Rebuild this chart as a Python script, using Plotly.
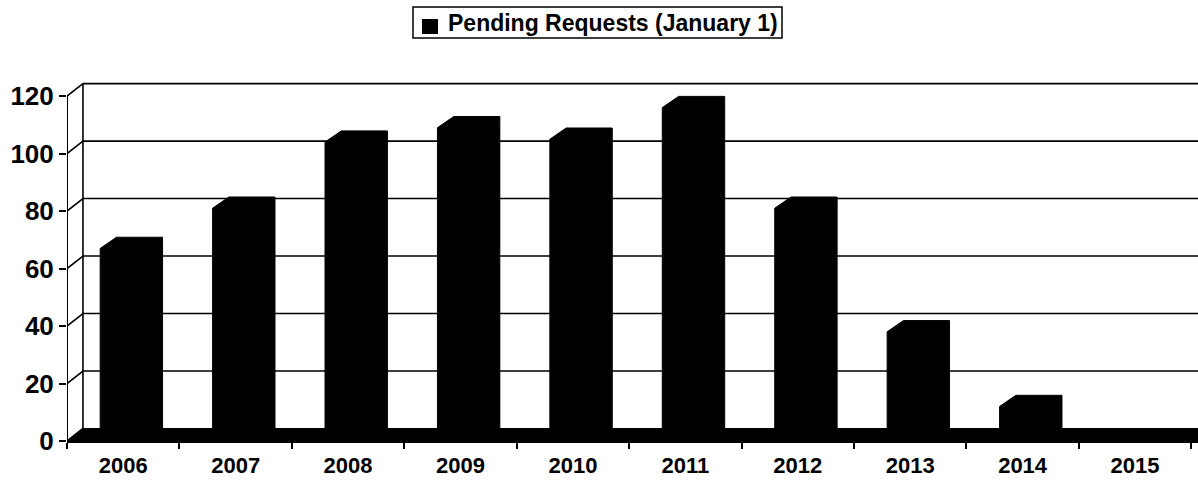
import plotly.graph_objects as go

# Pending requests outstanding on January 1 of each year
years = ["2006", "2007", "2008", "2009", "2010", "2011", "2012", "2013", "2014", "2015"]
pending = [67, 81, 104, 109, 105, 116, 81, 38, 12, 0]
y_ticks = [0, 20, 40, 60, 80, 100, 120]
series_name = "Pending Requests (January 1)"

W, H = 1198, 480
M_L, M_R, M_T, M_B = 67, 0, 78, 39

# pseudo-3D geometry (axis units): wall/floor depth and bar depth
WALL_DX, WALL_DY = 0.142, 4.35
BAR_DX, BAR_DY = 0.145, 3.9
BAR_W = 0.41
X_MAX = 10.06
Y_MAX = 126.3


def px_to_paper(px, py):
    """Convert a pixel position on the page to paper coordinates."""
    return ((px - M_L) / (W - M_L - M_R), (H - M_B - py) / (H - M_T - M_B))


fig = go.Figure()

# back wall: gridlines, left edge and the connectors to the front axis
gx, gy = [], []
for v in y_ticks:
    gx += [0, WALL_DX, None]
    gy += [v, v + WALL_DY, None]
    if v > 0:
        gx += [WALL_DX, X_MAX + 1, None]
        gy += [v + WALL_DY, v + WALL_DY, None]
gx += [WALL_DX, WALL_DX, None]
gy += [WALL_DY, y_ticks[-1] + WALL_DY, None]
fig.add_trace(go.Scatter(x=gx, y=gy, mode="lines", line=dict(color="black", width=1.6),
                         hoverinfo="skip", showlegend=False))

# floor
fig.add_trace(go.Scatter(x=[0, WALL_DX, X_MAX + 1, X_MAX + 1, 0],
                         y=[0, WALL_DY, WALL_DY, 0, 0],
                         mode="lines", fill="toself", fillcolor="black",
                         line=dict(color="black", width=1), hoverinfo="skip", showlegend=False))

# columns: front face plus top and side faces, drawn as one solid outline each
for i, (yr, v) in enumerate(zip(years, pending)):
    c = i + 0.5
    xl, xr = c - BAR_W / 2, c + BAR_W / 2
    fig.add_trace(go.Scatter(
        x=[xl, xl, xl + BAR_DX, xr + BAR_DX, xr + BAR_DX, xr, xl],
        y=[0, v, v + BAR_DY, v + BAR_DY, BAR_DY, 0, 0],
        mode="lines", fill="toself", fillcolor="black",
        line=dict(color="black", width=1), name=yr,
        hovertemplate=f"{yr}: {v}<extra></extra>", showlegend=False))

# front value axis line
fig.add_trace(go.Scatter(x=[0, 0], y=[0, y_ticks[-1]], mode="lines",
                         line=dict(color="black", width=2), hoverinfo="skip", showlegend=False))

# series key above the chart: framed box, filled swatch, label
bx0, by0 = px_to_paper(413, 38)
bx1, by1 = px_to_paper(782, 7)
fig.add_shape(type="rect", xref="paper", yref="paper", x0=bx0, y0=by0, x1=bx1, y1=by1,
              line=dict(color="black", width=1.5), fillcolor="white", layer="above")
sx0, sy0 = px_to_paper(422, 34)
sx1, sy1 = px_to_paper(438, 19)
fig.add_shape(type="rect", xref="paper", yref="paper", x0=sx0, y0=sy0, x1=sx1, y1=sy1,
              line=dict(color="black", width=0), fillcolor="black", layer="above")
tx, ty = px_to_paper(446, 23)
fig.add_annotation(
    xref="paper", yref="paper", x=tx, y=ty, xanchor="left", yanchor="middle",
    text=series_name, showarrow=False, font=dict(size=23, weight=700),
)

fig.update_layout(
    width=W, height=H,
    margin=dict(l=M_L, r=M_R, t=M_T, b=M_B, autoexpand=False),
    paper_bgcolor="white", plot_bgcolor="white",
    font=dict(family="Liberation Sans, Arial, sans-serif", color="black"),
    showlegend=False,
    xaxis=dict(
        range=[0, X_MAX], showgrid=False, zeroline=False,
        showline=True, linecolor="black", linewidth=2,
        tickmode="array", tickvals=[i + 0.5 for i in range(len(years))], ticktext=years,
        ticks="", tickfont=dict(size=22, weight=700), tickangle=0,
        minor=dict(tickmode="array", tickvals=list(range(len(years) + 1)),
                   ticks="outside", ticklen=6, tickwidth=2, tickcolor="black", showgrid=False),
        ticklabelstandoff=4,
        fixedrange=True,
    ),
    yaxis=dict(
        range=[0, Y_MAX], showgrid=False, zeroline=False, showline=False,
        tickmode="array", tickvals=y_ticks,
        ticks="outside", ticklen=7, tickwidth=2, tickcolor="black",
        tickfont=dict(size=26, weight=700),
        fixedrange=True,
    ),
)

fig.write_html("out.html")
